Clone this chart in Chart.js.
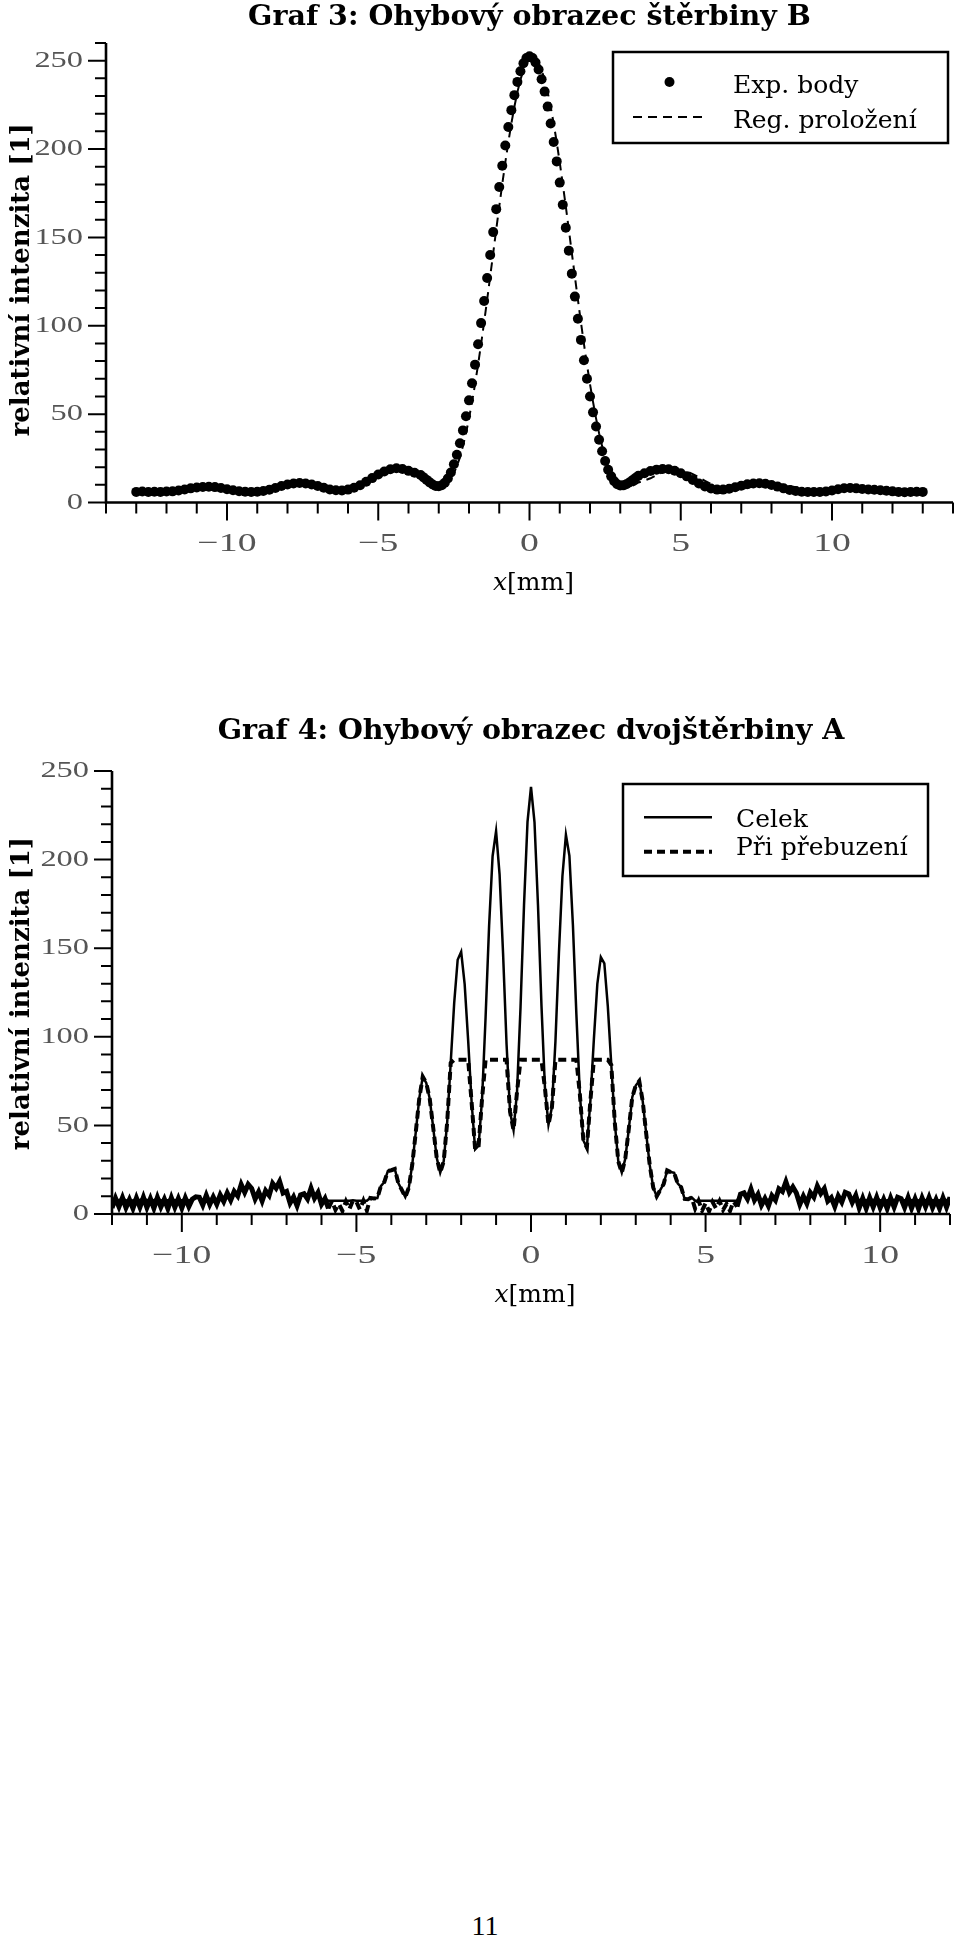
<!DOCTYPE html>
<html lang="cs">
<head>
<meta charset="utf-8">
<title>Graf 3 a Graf 4 – ohybové obrazce</title>
<script src="https://cdn.jsdelivr.net/npm/chart.js@4"></script>
<style>
  html, body { margin: 0; padding: 0; background: #fff; }
  body { width: 960px; height: 1940px; position: relative; overflow: hidden; }
  canvas { position: absolute; left: 0; }
  #graf3 { top: 0; }
  #graf4 { top: 690px; }
  #strana { position: absolute; top: 1910px; left: 0; width: 970px; text-align: center;
            font: 28px/31px "Liberation Serif", serif; color: #000; }
</style>
</head>
<body>
<canvas id="graf3" width="960" height="600"></canvas>
<canvas id="graf4" width="960" height="630"></canvas>
<div id="strana">11</div>
<script>
/* ===== Graf 3: štěrbina B ===== */
const slitX = [
  -13.0,-12.8,-12.6,-12.4,-12.2,-12.0,-11.8,-11.6,-11.4,-11.2,
  -11.0,-10.8,-10.6,-10.4,-10.2,-10.0,-9.8,-9.6,-9.4,-9.2,
  -9.0,-8.8,-8.6,-8.4,-8.2,-8.0,-7.8,-7.6,-7.4,-7.2,
  -7.0,-6.8,-6.6,-6.4,-6.2,-6.0,-5.8,-5.6,-5.4,-5.2,
  -5.0,-4.8,-4.6,-4.4,-4.2,-4.0,-3.8,
  -3.6,-3.5,-3.4,-3.3,-3.2,-3.1,-3.0,-2.9,-2.8,-2.7,
  -2.6,-2.5,-2.4,-2.3,-2.2,-2.1,-2.0,-1.9,-1.8,-1.7,
  -1.6,-1.5,-1.4,-1.3,-1.2,-1.1,-1.0,-0.9,-0.8,-0.7,
  -0.6,-0.5,-0.4,-0.3,-0.2,-0.1,
  0.0,0.1,0.2,0.3,0.4,0.5,0.6,0.7,0.8,0.9,
  1.0,1.1,1.2,1.3,1.4,1.5,1.6,1.7,1.8,1.9,
  2.0,2.1,2.2,2.3,2.4,2.5,2.6,2.7,2.8,2.9,
  3.0,3.1,3.2,3.3,3.4,3.5,3.6,
  3.8,4.0,4.2,4.4,4.6,4.8,5.0,5.2,5.4,5.6,
  5.8,6.0,6.2,6.4,6.6,6.8,7.0,7.2,7.4,7.6,
  7.8,8.0,8.2,8.4,8.6,8.8,9.0,9.2,9.4,9.6,
  9.8,10.0,10.2,10.4,10.6,10.8,11.0,11.2,11.4,11.6,
  11.8,12.0,12.2,12.4,12.6,12.8,13.0
];
const slitExp = [
  6.0,6.2,5.9,6.1,6.0,6.2,6.3,6.8,7.4,8.0,
  8.5,8.8,8.9,8.7,8.2,7.5,6.9,6.4,6.1,6.0,
  6.1,6.5,7.2,8.2,9.3,10.2,10.8,11.0,10.8,10.2,
  9.3,8.3,7.4,6.9,6.8,7.3,8.3,9.8,11.7,13.8,
  15.8,17.5,18.8,19.4,19.0,17.9,16.8,
  15.6,14.2,12.8,11.4,10.2,9.4,9.2,9.8,11.2,13.6,
  17.0,21.6,27.0,33.5,40.8,48.8,57.8,67.5,78.0,89.5,
  101.5,114.0,127.0,140.0,153.0,166.0,178.5,190.5,202.0,212.5,
  222.0,230.5,238.0,244.0,248.5,251.5,
  252.5,251.5,249.0,245.0,239.5,232.5,224.0,214.5,204.0,193.0,
  181.0,168.5,155.5,142.5,129.5,116.5,104.0,92.0,80.5,70.0,
  60.0,51.0,43.0,35.5,29.0,23.5,18.5,14.8,12.0,10.3,
  9.6,9.7,10.3,11.3,12.6,13.9,15.1,
  16.6,17.8,18.6,19.0,18.8,18.0,16.6,14.8,12.8,10.8,
  9.1,7.9,7.3,7.3,7.8,8.6,9.5,10.3,10.8,10.9,
  10.6,9.9,9.0,8.0,7.1,6.5,6.1,6.0,5.9,6.0,
  6.2,6.8,7.5,8.1,8.2,8.0,7.6,7.4,7.2,6.9,
  6.6,6.3,6.0,5.8,6.0,6.1,6.0
];
const slitFit = [
  6.3,6.1,6.0,6.0,6.2,6.5,6.8,7.2,7.6,7.9,
  8.0,8.0,7.9,7.6,7.2,6.7,6.3,6.1,6.0,6.1,
  6.7,7.2,7.9,8.7,9.4,10.0,10.4,10.5,10.3,9.8,
  9.1,8.3,7.6,7.2,7.2,7.8,8.9,10.4,12.3,14.3,
  16.1,17.5,18.3,18.5,18.1,17.1,15.6,
  13.7,12.5,11.3,10.2,9.4,8.8,8.6,8.9,9.7,11.2,
  13.5,16.6,20.6,25.5,31.9,39.2,47.6,56.9,67.0,78.0,
  89.7,102.0,114.8,127.9,141.1,154.4,167.5,180.2,192.4,203.8,
  214.4,223.9,232.2,239.2,244.7,248.7,251.2,
  252.0,251.2,248.7,244.7,239.2,232.2,223.9,214.4,203.8,192.4,
  180.2,167.5,154.4,141.1,127.9,114.8,102.0,89.7,78.0,67.0,
  56.9,47.6,39.2,31.9,25.5,20.6,16.6,13.5,11.2,9.7,
  8.9,8.6,8.8,9.4,10.2,11.3,12.5,13.7,
  15.6,17.1,18.1,18.5,18.3,17.5,16.1,14.3,12.3,10.4,
  8.9,7.8,7.2,7.2,7.6,8.3,9.1,9.8,10.3,10.5,
  10.4,10.0,9.4,8.7,7.9,7.2,6.7,6.1,6.0,6.1,
  6.3,6.7,7.2,7.6,7.9,8.0,8.0,7.9,7.6,7.2,
  6.8,6.5,6.2,6.0,6.0,6.1,6.3
];
const slitXLabels = [-10, -5, 0, 5, 10];
const slitYLabels = [0, 50, 100, 150, 200, 250];

/* ===== Graf 4: dvojštěrbina A ===== */
const doubleX = [
  -12.0,-11.9,-11.8,-11.7,-11.6,-11.5,-11.4,-11.3,-11.2,-11.1,
  -11.0,-10.9,-10.8,-10.7,-10.6,-10.5,-10.4,-10.3,-10.2,-10.1,
  -10.0,-9.9,-9.8,-9.7,-9.6,-9.5,-9.4,-9.3,-9.2,-9.1,
  -9.0,-8.9,-8.8,-8.7,-8.6,-8.5,-8.4,-8.3,-8.2,-8.1,
  -8.0,-7.9,-7.8,-7.7,-7.6,-7.5,-7.4,-7.3,-7.2,-7.1,
  -7.0,-6.9,-6.8,-6.7,-6.6,-6.5,-6.4,-6.3,-6.2,-6.1,
  -6.0,-5.9,-5.8,-5.7,-5.6,-5.5,-5.4,-5.3,-5.2,-5.1,
  -5.0,-4.9,-4.8,-4.7,-4.6,-4.5,-4.4,-4.3,-4.2,-4.1,
  -4.0,-3.9,-3.8,-3.7,-3.6,-3.5,-3.4,-3.3,-3.2,-3.1,
  -3.0,-2.9,-2.8,-2.7,-2.6,-2.5,-2.4,-2.3,-2.2,-2.1,
  -2.0,-1.9,-1.8,-1.7,-1.6,-1.5,-1.4,-1.3,-1.2,-1.1,
  -1.0,-0.9,-0.8,-0.7,-0.6,-0.5,-0.4,-0.3,-0.2,-0.1,
  0.0,0.1,0.2,0.3,0.4,0.5,0.6,0.7,0.8,0.9,
  1.0,1.1,1.2,1.3,1.4,1.5,1.6,1.7,1.8,1.9,
  2.0,2.1,2.2,2.3,2.4,2.5,2.6,2.7,2.8,2.9,
  3.0,3.1,3.2,3.3,3.4,3.5,3.6,3.7,3.8,3.9,
  4.0,4.1,4.2,4.3,4.4,4.5,4.6,4.7,4.8,4.9,
  5.0,5.1,5.2,5.3,5.4,5.5,5.6,5.7,5.8,5.9,
  6.0,6.1,6.2,6.3,6.4,6.5,6.6,6.7,6.8,6.9,
  7.0,7.1,7.2,7.3,7.4,7.5,7.6,7.7,7.8,7.9,
  8.0,8.1,8.2,8.3,8.4,8.5,8.6,8.7,8.8,8.9,
  9.0,9.1,9.2,9.3,9.4,9.5,9.6,9.7,9.8,9.9,
  10.0,10.1,10.2,10.3,10.4,10.5,10.6,10.7,10.8,10.9,
  11.0,11.1,11.2,11.3,11.4,11.5,11.6,11.7,11.8,11.9,
  12.0
];
const doubleCelek = [
  7.5,8.9,7.5,9.2,7.5,8.1,7.5,9.0,7.5,9.4,
  7.5,8.6,7.5,9.3,7.5,8.3,7.5,9.1,7.5,8.7,
  7.5,9.0,7.5,8.4,9.7,9.4,7.5,10.5,7.5,9.6,
  7.5,10.7,7.5,11.8,7.8,12.7,10.2,16.6,12.2,16.7,
  14.4,8.5,12.5,7.5,13.1,10.5,17.2,14.6,18.3,11.8,
  12.7,7.5,9.6,7.5,10.7,11.4,8.5,14.5,8.9,12.1,
  7.5,8.7,7.5,7.5,7.5,7.5,7.5,7.5,7.5,7.7,
  7.5,7.5,7.5,7.5,9.1,8.8,9.0,15.7,18.1,24.2,
  24.7,25.4,17.4,13.6,9.5,14.8,28.0,46.2,65.2,77.5,
  74.0,65.0,48.6,31.7,23.3,29.7,51.9,85.2,119.0,143.5,
  148.0,129.7,98.0,62.9,36.5,38.5,65.5,111.3,162.6,201.9,
  216.0,191.7,147.1,95.8,57.7,47.4,69.0,116.7,174.3,221.3,
  241.0,221.2,174.4,117.6,71.0,50.4,60.4,97.4,147.4,190.6,
  214.0,202.1,163.2,112.5,67.4,41.5,37.5,63.6,98.4,129.9,
  145.0,141.5,117.2,84.1,51.5,29.7,23.3,31.2,47.8,65.9,
  72.5,75.0,63.6,45.2,27.7,15.0,10.0,13.5,17.0,24.6,
  23.7,23.2,17.3,15.1,8.5,8.3,9.4,7.5,7.5,7.5,
  7.5,7.5,7.5,7.5,7.5,7.5,7.5,7.5,7.5,7.5,
  11.2,11.9,8.5,14.0,7.9,11.1,7.5,8.7,7.5,10.3,
  7.8,14.2,12.7,18.1,12.2,15.2,11.9,7.5,10.0,7.5,
  12.1,9.5,15.7,11.6,14.3,7.5,9.2,7.5,10.1,7.5,
  12.2,11.4,7.5,10.5,7.5,8.8,7.5,9.1,7.5,9.3,
  7.5,8.2,7.5,9.0,7.5,9.4,8.6,7.5,9.2,7.5,
  8.5,7.5,9.0,7.5,9.3,7.5,8.2,7.5,9.1,7.5,
  9.4
];
const doublePrebuzeni = [
  3.4,8.9,4.1,9.2,3.6,8.1,3.2,9.0,3.9,9.4,
  3.7,8.6,3.3,9.3,4.0,8.3,3.1,9.1,3.8,8.7,
  3.4,9.0,4.2,8.4,9.7,9.4,5.0,10.5,5.4,9.6,
  5.5,10.7,7.1,11.8,7.8,12.7,10.2,16.6,12.2,16.7,
  14.4,8.5,12.5,7.4,13.1,10.5,17.2,14.6,18.3,11.8,
  12.7,6.2,9.6,4.7,10.7,11.4,8.5,14.5,8.9,12.1,
  5.5,8.7,3.1,7.3,2.3,5.7,1.7,7.1,2.7,7.7,
  6.9,2.5,7.5,1.9,9.1,8.8,9.0,15.7,18.1,24.2,
  24.7,25.4,17.4,13.6,9.5,14.8,28.0,46.2,65.2,77.5,
  74.0,65.0,48.6,31.7,23.3,29.7,51.9,85.2,87,87,
  87,87,87,62.9,36.5,38.5,65.5,87,87,87,
  87,87,87,87,57.7,47.4,69.0,87,87,87,
  87,87,87,87,71.0,50.4,60.4,87,87,87,
  87,87,87,87,67.4,41.5,37.5,63.6,87,87,
  87,87,87,84.1,51.5,29.7,23.3,31.2,47.8,65.9,
  72.5,75.0,63.6,45.2,27.7,15.0,10.0,13.5,17.0,24.6,
  23.7,23.2,17.3,15.1,8.5,8.3,9.4,3.0,7.5,1.9,
  6.1,1.5,6.7,3.1,7.3,2.3,5.7,1.7,7.1,4.2,
  11.2,11.9,8.5,14.0,7.9,11.1,5.0,8.7,4.6,10.3,
  7.8,14.2,12.7,18.1,12.2,15.2,11.9,5.5,10.0,5.9,
  12.1,9.5,15.7,11.6,14.3,7.3,9.2,4.2,10.1,6.7,
  12.2,11.4,6.5,10.5,3.5,8.8,3.2,9.1,4.0,9.3,
  3.6,8.2,3.1,9.0,3.9,9.4,8.6,3.7,9.2,3.3,
  8.5,3.0,9.0,4.1,9.3,3.6,8.2,3.2,9.1,3.9,
  9.4
];
const doubleXLabels = [-10, -5, 0, 5, 10];
const doubleYLabels = [0, 50, 100, 150, 200, 250];

// body [x, y] pro Chart.js
const pts = (xs, ys) => xs.map((x, i) => ({ x: x, y: ys[i] }));
// znamenko minus jako v sazbe
const fmtTick = v => (v < 0 ? '\u2212' + (-v) : String(v));

const tickColor = '#555';

/* osy ve stylu pgfplots: hlavni a vedlejsi carky, popisky carek a os */
const pgfAxes = {
  id: 'pgfAxes',
  afterDraw(chart, args, o) {
    const { ctx, chartArea: a, scales: { x, y } } = chart;
    ctx.save();
    ctx.strokeStyle = '#000';
    ctx.lineCap = 'butt';
    ctx.lineWidth = 2;
    ctx.beginPath();
    for (let v = Math.ceil(x.min); v <= x.max; v += o.xMinor) {
      const px = x.getPixelForValue(v);
      ctx.moveTo(px, a.bottom);
      ctx.lineTo(px, a.bottom + (v % o.xMajor === 0 ? 18 : 11));
    }
    for (let v = 0; v <= y.max; v += o.yMinor) {
      const py = y.getPixelForValue(v);
      ctx.moveTo(a.left, py);
      ctx.lineTo(a.left - (v % o.yMajor === 0 ? 18 : 11), py);
    }
    ctx.stroke();

    ctx.lineWidth = 2.6;
    ctx.beginPath();
    ctx.moveTo(a.left, a.top);
    ctx.lineTo(a.left, a.bottom);
    ctx.lineTo(a.right, a.bottom);
    ctx.stroke();

    // popisky carek, vodorovne roztazene jako v predloze
    ctx.fillStyle = tickColor;
    ctx.textBaseline = 'middle';
    const stretched = (txt, px, py, align, size, sx) => {
      ctx.save();
      ctx.font = size + 'px "Liberation Serif", serif';
      ctx.translate(px, py);
      ctx.scale(sx, 1);
      ctx.textAlign = align;
      ctx.fillText(txt, 0, 0);
      ctx.restore();
    };
    o.xLabels.forEach(v => stretched(fmtTick(v), x.getPixelForValue(v), a.bottom + 42, 'center', 26, 1.45));
    o.yLabels.forEach(v => stretched(fmtTick(v), a.left - 23, y.getPixelForValue(v), 'right', 24, 1.35));

    // popisek osy y
    ctx.fillStyle = '#000';
    ctx.font = 'bold 26px "DejaVu Serif", serif';
    ctx.textAlign = 'center';
    ctx.textBaseline = 'alphabetic';
    ctx.save();
    ctx.translate(o.yTitleX, (a.top + a.bottom) / 2 + o.yTitleShift);
    ctx.rotate(-Math.PI / 2);
    ctx.fillText(o.yTitle, 0, 0);
    ctx.restore();

    // popisek osy x: kurziva x + [mm]
    const fIt = 'italic 25px "DejaVu Serif", serif';
    const fUp = '25px "DejaVu Serif", serif';
    ctx.font = fIt;
    const w1 = ctx.measureText(o.xVar).width;
    ctx.font = fUp;
    const w2 = ctx.measureText(o.xUnit).width;
    const x0 = (a.left + a.right) / 2 + 4 - (w1 + w2) / 2;
    ctx.textAlign = 'left';
    ctx.font = fIt;
    ctx.fillText(o.xVar, x0, a.bottom + o.xTitleDy);
    ctx.font = fUp;
    ctx.fillText(o.xUnit, x0 + w1, a.bottom + o.xTitleDy);
    ctx.restore();
  }
};

/* legenda v ramecku uvnitr grafu */
const pgfLegend = {
  id: 'pgfLegend',
  afterDraw(chart, args, o) {
    const ctx = chart.ctx;
    ctx.save();
    ctx.fillStyle = '#fff';
    ctx.fillRect(o.left, o.top, o.right - o.left, o.bottom - o.top);
    ctx.strokeStyle = '#000';
    ctx.lineWidth = 2.5;
    ctx.strokeRect(o.left, o.top, o.right - o.left, o.bottom - o.top);
    chart.data.datasets.forEach((ds, i) => {
      const row = o.rows[i];
      ctx.fillStyle = '#000';
      ctx.strokeStyle = '#000';
      if (ds.showLine === false) {
        ctx.beginPath();
        ctx.arc((o.x0 + o.x1) / 2, row.mark, ds.pointRadius, 0, 2 * Math.PI);
        ctx.fill();
      } else {
        ctx.lineWidth = ds.borderWidth;
        ctx.setLineDash(ds.borderDash || []);
        ctx.beginPath();
        ctx.moveTo(o.x0, row.mark);
        ctx.lineTo(o.x1, row.mark);
        ctx.stroke();
        ctx.setLineDash([]);
      }
      ctx.font = '25px "DejaVu Serif", serif';
      ctx.textAlign = 'left';
      ctx.textBaseline = 'alphabetic';
      ctx.fillText(ds.label, o.textX, row.base);
    });
    ctx.restore();
  }
};

function scalesFor(xMin, xMax, yMax, areaLeft, xHeight) {
  return {
    x: {
      type: 'linear', min: xMin, max: xMax,
      afterFit: s => { s.height = xHeight; },
      grid: { display: false, drawTicks: false },
      border: { display: false },
      ticks: { display: false }
    },
    y: {
      type: 'linear', min: 0, max: yMax,
      afterFit: s => { s.width = areaLeft; },
      grid: { display: false, drawTicks: false },
      border: { display: false },
      ticks: { display: false }
    }
  };
}

const titleFont = { family: '"DejaVu Serif", serif', size: 28.5, weight: 'bold' };
// husty sum na okrajich: ctverecky splyvaji v souvisly tmavy pas
const noisyTail = c => Math.abs(c.p0.parsed.x) >= 5.85;

new Chart(document.getElementById('graf3'), {
  type: 'line',
  data: {
    datasets: [
      {
        label: 'Exp. body', data: pts(slitX, slitExp), showLine: false,
        pointRadius: 5, pointHoverRadius: 5, pointBackgroundColor: '#000',
        pointBorderWidth: 0, order: 2
      },
      {
        label: 'Reg. proložení', data: pts(slitX, slitFit), borderColor: '#000',
        borderWidth: 2, borderDash: [9, 6], pointRadius: 0, order: 1
      }
    ]
  },
  options: {
    responsive: false, animation: false, events: [],
    layout: { padding: { top: 0, right: 7, bottom: 0, left: 0 } },
    scales: scalesFor(-14, 14, 260, 106, 97.5),
    plugins: {
      legend: { display: false },
      tooltip: { enabled: false },
      title: {
        display: true, fullSize: false, text: 'Graf 3: Ohybový obrazec štěrbiny B',
        color: '#000', font: titleFont, padding: { top: 0, bottom: 8.8 }
      },
      pgfAxes: {
        xMinor: 1, xMajor: 5, yMinor: 10, yMajor: 50,
        xLabels: slitXLabels, yLabels: slitYLabels,
        yTitle: 'relativní intenzita [1]', yTitleX: 29, yTitleShift: 7,
        xVar: 'x', xUnit: '[mm]', xTitleDy: 87
      },
      pgfLegend: {
        left: 613, top: 52, right: 948, bottom: 143, x0: 633, x1: 706, textX: 733,
        rows: [{ mark: 82, base: 93 }, { mark: 117, base: 128 }]
      }
    }
  },
  plugins: [pgfAxes, pgfLegend]
});

new Chart(document.getElementById('graf4'), {
  type: 'line',
  data: {
    datasets: [
      {
        label: 'Celek', data: pts(doubleX, doubleCelek), borderColor: '#000',
        borderWidth: 2.5, pointRadius: 0, order: 2
      },
      {
        label: 'Při přebuzení', data: pts(doubleX, doublePrebuzeni), borderColor: '#000',
        borderWidth: 4, borderDash: [8, 5], pointRadius: 0, order: 1,
        segment: {
          borderDash: c => (noisyTail(c) ? [] : undefined),
          borderWidth: c => (noisyTail(c) ? 5 : undefined)
        }
      }
    ]
  },
  options: {
    responsive: false, animation: false, events: [],
    layout: { padding: { top: 24, right: 10, bottom: 0, left: 0 } },
    scales: scalesFor(-12, 12, 250, 112, 106),
    plugins: {
      legend: { display: false },
      tooltip: { enabled: false },
      title: {
        display: true, fullSize: false, text: 'Graf 4: Ohybový obrazec dvojštěrbiny A',
        color: '#000', font: titleFont, padding: { top: 0, bottom: 22.8 }
      },
      pgfAxes: {
        xMinor: 1, xMajor: 5, yMinor: 10, yMajor: 50,
        xLabels: doubleXLabels, yLabels: doubleYLabels,
        yTitle: 'relativní intenzita [1]', yTitleX: 29, yTitleShift: 1,
        xVar: 'x', xUnit: '[mm]', xTitleDy: 88
      },
      pgfLegend: {
        left: 623, top: 94, right: 928, bottom: 186, x0: 644, x1: 712, textX: 736,
        rows: [{ mark: 127.3, base: 136.7 }, { mark: 161.7, base: 165 }]
      }
    }
  },
  plugins: [pgfAxes, pgfLegend]
});
</script>
</body>
</html>
